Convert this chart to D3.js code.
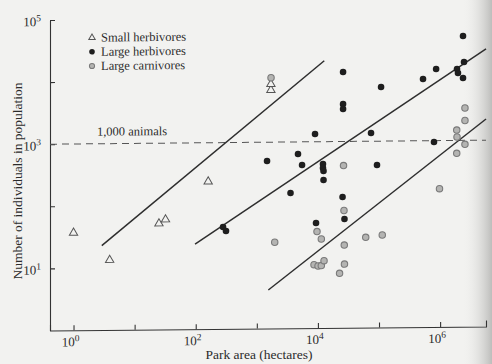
<!DOCTYPE html>
<html>
<head>
<meta charset="utf-8">
<script src="https://cdn.jsdelivr.net/npm/d3@7"></script>
<style>
  html, body { margin: 0; padding: 0; background: #f2f2f0; }
  svg { display: block; }
  text { font-family: "Liberation Serif", "DejaVu Serif", serif; fill: #2b2b2b; }
</style>
</head>
<body>
<div id="chart"></div>
<script>
// park area (hectares) vs population size
const smallHerbArea = [1, 3.9, 25, 32, 160, 1700, 1700];
const smallHerbPop  = [37, 13.4, 51, 59, 237, 6900, 8600];

const largeHerbArea = [25800, 108000, 525000, 860000, 2370000, 2460000, 1890000, 1960000, 2370000,
  25800, 25800, 8970, 74000, 794000, 1470, 4720, 5500, 12100, 12100, 12350, 92700, 12350,
  3560, 25300, 27200, 9310, 280, 313];
const largeHerbPop  = [13150, 7450, 9870, 14200, 48000, 18300, 14100, 12200, 10100,
  4000, 3340, 1330, 1360, 950, 498, 639, 424, 437, 377, 337, 413, 242,
  151, 128, 56.5, 49.1, 43.7, 37.7];

const largeCarnArea = [1708, 26240, 2550000, 2550000, 1870000, 1890000, 2550000, 1870000, 977000,
  26700, 9660, 11370, 1963, 60600, 113000, 27000, 8630, 10040, 11370, 12590, 27200, 22600];
const largeCarnPop  = [10900, 410, 3320, 2090, 1470, 1135, 864, 621, 168,
  77.4, 35.8, 27.1, 24.4, 28.4, 30.8, 21.5, 10.5, 9.97, 10.1, 12.1, 10.6, 7.55];

// fitted lines, [area, population] at each end
const smallHerbFit = [[2.9, 22.8], [12700, 20100]];
const largeHerbFit = [[97.5, 23.5], [5640000, 29400]];
const largeCarnFit = [[1543, 4.17], [5640000, 2193]];

const threshold = 1000;
const xTicks = [1e0, 1e1, 1e2, 1e3, 1e4, 1e5, 1e6];
const xLabelExp = [0, 2, 4, 6];
const yTicks = [1e1, 1e2, 1e3, 1e4, 1e5];
const yLabelExp = [1, 3, 5];
const legendNames = ["Small herbivores", "Large herbivores", "Large carnivores"];

const W = 492, H = 364;
const plotLeft = 50, plotBottom = 330.5, plotTop = 20, plotRight = 486;

const x = d3.scaleLog().domain([Math.pow(10, -0.385), Math.pow(10, 6.751)]).range([plotLeft, plotRight]);
const y = d3.scaleLog().domain([1, 1e5]).range([plotBottom, plotTop]);

const svg = d3.select('#chart').append('svg')
  .attr('width', W)
  .attr('height', H);

// paper + darker edge of the scan on the right
const defs = svg.append('defs');
const grad = defs.append('linearGradient').attr('id', 'edge').attr('x1', 0).attr('x2', 1);
grad.append('stop').attr('offset', '0%').attr('stop-color', '#f2f2f0').attr('stop-opacity', 0);
grad.append('stop').attr('offset', '100%').attr('stop-color', '#bdbdbb').attr('stop-opacity', 1);
svg.append('rect').attr('width', W).attr('height', H).attr('fill', '#f2f2f0');
svg.append('rect').attr('x', 462).attr('width', 30).attr('height', H).attr('fill', 'url(#edge)');

// scan is slightly skewed
const g = svg.append('g')
  .attr('transform', `translate(${plotLeft},0) skewY(-0.53) translate(${-plotLeft},0)`);

const ink = '#333';

// axes
const xAxis = g.append('g')
  .attr('transform', `translate(0,${plotBottom})`)
  .call(d3.axisTop(x).tickValues(xTicks).tickFormat('').tickSizeInner(5).tickSizeOuter(6));
const yAxis = g.append('g')
  .attr('transform', `translate(${plotLeft},0)`)
  .call(d3.axisRight(y).tickValues(yTicks).tickFormat('').tickSizeInner(5).tickSizeOuter(0));
[xAxis, yAxis].forEach(a => {
  a.selectAll('path, line').attr('stroke', ink).attr('stroke-width', 1.1);
});

// tick labels with superscripts
xLabelExp.forEach(e => {
  const t = g.append('text')
    .attr('x', x(Math.pow(10, e)) - 3)
    .attr('y', plotBottom + 16)
    .attr('text-anchor', 'middle')
    .style('font-size', '13px');
  t.append('tspan').text('10');
  t.append('tspan').attr('dy', -5).style('font-size', '9.5px').text(e);
});
yLabelExp.forEach(e => {
  const t = g.append('text')
    .attr('x', 41)
    .attr('y', y(Math.pow(10, e)) + 6)
    .attr('text-anchor', 'end')
    .style('font-size', '13px');
  t.append('tspan').text('10');
  t.append('tspan').attr('dy', -5).style('font-size', '9.5px').text(e);
});

// 1,000 animals
g.append('line')
  .attr('x1', plotLeft).attr('x2', plotRight)
  .attr('y1', y(threshold)).attr('y2', y(threshold))
  .attr('stroke', '#555').attr('stroke-width', 1)
  .attr('stroke-dasharray', '7,5');
g.append('text')
  .attr('x', 97).attr('y', y(threshold) - 8)
  .style('font-size', '12.5px')
  .text('1,000 animals');

// fit lines
const line = d3.line().x(d => x(d[0])).y(d => y(d[1]));
[smallHerbFit, largeHerbFit, largeCarnFit].forEach(f => {
  g.append('path')
    .attr('d', line(f))
    .attr('fill', 'none')
    .attr('stroke', '#2e2e2e')
    .attr('stroke-width', 1.5);
});

// points
const tri = d3.symbol().type(d3.symbolTriangle).size(30);

g.selectAll('.small')
  .data(d3.zip(smallHerbArea, smallHerbPop))
  .enter()
  .append('path')
  .attr('class', 'small')
  .attr('d', tri)
  .attr('transform', d => `translate(${x(d[0])},${y(d[1])})`)
  .attr('fill', '#f2f2f0')
  .attr('stroke', '#555')
  .attr('stroke-width', 1);

g.selectAll('.carn')
  .data(d3.zip(largeCarnArea, largeCarnPop))
  .enter()
  .append('circle')
  .attr('class', 'carn')
  .attr('cx', d => x(d[0]))
  .attr('cy', d => y(d[1]))
  .attr('r', 3.2)
  .attr('fill', '#b4b4b2')
  .attr('stroke', '#7a7a7a')
  .attr('stroke-width', 1.1);

g.selectAll('.large')
  .data(d3.zip(largeHerbArea, largeHerbPop))
  .enter()
  .append('circle')
  .attr('class', 'large')
  .attr('cx', d => x(d[0]))
  .attr('cy', d => y(d[1]))
  .attr('r', 3.3)
  .attr('fill', '#1e1e1e');

// legend
const leg = g.append('g').attr('transform', 'translate(92,38)');
legendNames.forEach((name, i) => {
  const row = leg.append('g').attr('transform', `translate(0,${i * 14.2})`);
  if (i === 0) {
    row.append('path').attr('d', d3.symbol().type(d3.symbolTriangle).size(18))
      .attr('fill', 'none').attr('stroke', '#555').attr('stroke-width', 1);
  } else if (i === 1) {
    row.append('circle').attr('r', 2.8).attr('fill', '#1e1e1e');
  } else {
    row.append('circle').attr('r', 2.6).attr('fill', '#b4b4b2').attr('stroke', '#7a7a7a');
  }
  row.append('text')
    .attr('x', 9).attr('y', 4)
    .style('font-size', '12.5px')
    .text(name);
});

// axis titles
svg.append('text')
  .attr('x', 259).attr('y', 359)
  .attr('text-anchor', 'middle')
  .style('font-size', '13.5px')
  .text('Park area (hectares)');
svg.append('text')
  .attr('transform', 'translate(22,181) rotate(-90)')
  .attr('text-anchor', 'middle')
  .style('font-size', '13.5px')
  .text('Number of individuals in population');
</script>
</body>
</html>
